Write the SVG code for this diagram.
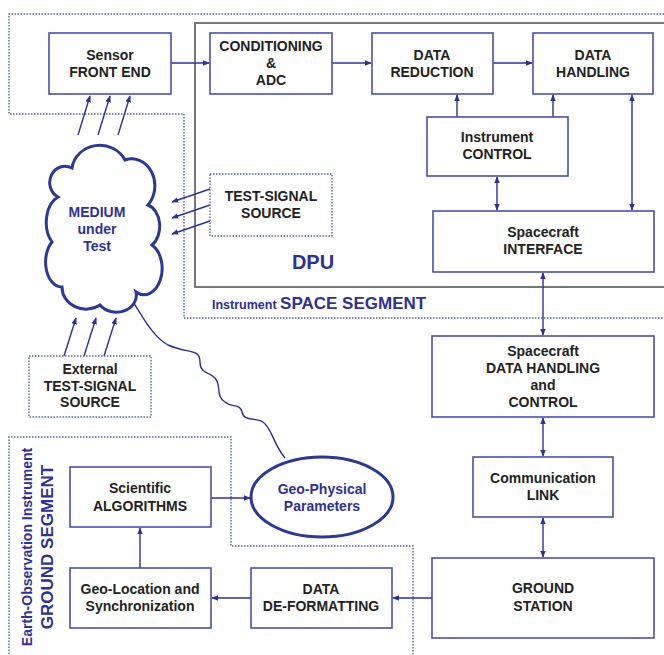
<svg xmlns="http://www.w3.org/2000/svg" width="664" height="655" viewBox="0 0 664 655">
<defs>
<style>
.box{fill:#fff;stroke:#4b50a6;stroke-width:1.6}
.dbox{fill:#fff;stroke:#5563b8;stroke-width:1.4;stroke-dasharray:1.5 1.5}
.bound{fill:none;stroke:#5563b8;stroke-width:1.4;stroke-dasharray:1.5 1.5}
.t{font-family:"Liberation Sans",Arial,sans-serif;font-weight:bold;font-size:14px;fill:#222;text-anchor:middle}
.bt{font-family:"Liberation Sans",Arial,sans-serif;font-weight:bold;fill:#2e3192}
.c{fill:none;stroke:#2e3192;stroke-width:1.4}
.thick{fill:#fff;stroke:#2b3990;stroke-width:3}
</style>
<marker id="ah" viewBox="0 0 10 10" refX="9" refY="5" markerWidth="7" markerHeight="7" orient="auto-start-reverse" markerUnits="userSpaceOnUse">
<path d="M0,1 L10,5 L0,9 Z" fill="#2e3192"/>
</marker>
</defs>
<rect width="664" height="655" fill="#fff"/>

<g id="boundaries">
<path class="bound" d="M670,14 H9 V114 H184 V318 H670"/>
<rect x="195" y="23" width="480" height="264" fill="none" stroke="#777" stroke-width="2"/>
<path class="bound" d="M9,660 V437 H231 V546 H413 V660"/>
<text class="bt" x="313" y="269" font-size="20" text-anchor="middle">DPU</text>
<text class="bt" x="212" y="309" font-size="12.5">Instrument <tspan font-size="17">SPACE SEGMENT</tspan></text>
<text class="bt" font-size="14" text-anchor="middle" transform="translate(32,547) rotate(-90)" font-weight="normal">Earth-Observation Instrument</text>
<text class="bt" font-size="17" text-anchor="middle" transform="translate(53,547) rotate(-90)">GROUND SEGMENT</text>
</g>

<g id="connectors">
<line class="c" x1="171" y1="63" x2="209" y2="63" marker-end="url(#ah)"/>
<line class="c" x1="332" y1="63" x2="371" y2="63" marker-end="url(#ah)"/>
<line class="c" x1="493" y1="63" x2="532" y2="63" marker-end="url(#ah)"/>
<line class="c" x1="457" y1="117" x2="457" y2="95" marker-end="url(#ah)"/>
<line class="c" x1="553" y1="117" x2="553" y2="95" marker-end="url(#ah)"/>
<line class="c" x1="497" y1="177" x2="497" y2="210" marker-start="url(#ah)" marker-end="url(#ah)"/>
<line class="c" x1="632" y1="95" x2="632" y2="210" marker-start="url(#ah)" marker-end="url(#ah)"/>
<line class="c" x1="543" y1="273" x2="543" y2="335" marker-start="url(#ah)" marker-end="url(#ah)"/>
<line class="c" x1="543" y1="418" x2="543" y2="456" marker-start="url(#ah)" marker-end="url(#ah)"/>
<line class="c" x1="543" y1="518" x2="543" y2="557" marker-start="url(#ah)" marker-end="url(#ah)"/>
<line class="c" x1="432" y1="598" x2="393" y2="598" marker-end="url(#ah)"/>
<line class="c" x1="251" y1="598" x2="212" y2="598" marker-end="url(#ah)"/>
<line class="c" x1="140" y1="568" x2="140" y2="528" marker-end="url(#ah)"/>
<line class="c" x1="211" y1="498" x2="250" y2="498" marker-end="url(#ah)"/>
<line class="c" x1="78" y1="135" x2="90" y2="96" marker-end="url(#ah)"/>
<line class="c" x1="98" y1="135" x2="110" y2="96" marker-end="url(#ah)"/>
<line class="c" x1="118" y1="135" x2="130" y2="96" marker-end="url(#ah)"/>
<line class="c" x1="210" y1="189" x2="172" y2="202" marker-end="url(#ah)"/>
<line class="c" x1="210" y1="205" x2="172" y2="218" marker-end="url(#ah)"/>
<line class="c" x1="210" y1="221" x2="172" y2="234" marker-end="url(#ah)"/>
<line class="c" x1="64" y1="356" x2="76" y2="318" marker-end="url(#ah)"/>
<line class="c" x1="84" y1="356" x2="96" y2="318" marker-end="url(#ah)"/>
<line class="c" x1="104" y1="356" x2="116" y2="318" marker-end="url(#ah)"/>
<path class="c" d="M128,295 C140,310 150,335 168,345 C188,354 200,348 200,362 C200,374 210,372 215,378 C222,386 215,396 225,402 C232,408 240,403 242,412 C244,422 255,417 263,422 C273,430 272,442 285,458"/>
</g>

<g id="sensor"><rect class="box" x="49" y="33" width="122" height="61"/><text class="t" x="110" y="60">Sensor</text><text class="t" x="110" y="77">FRONT END</text></g>
<g id="conditioning"><rect class="box" x="210" y="33" width="122" height="61"/><text class="t" x="271" y="51">CONDITIONING</text><text class="t" x="271" y="68">&amp;</text><text class="t" x="271" y="85">ADC</text></g>
<g id="reduction"><rect class="box" x="372" y="33" width="121" height="61"/><text class="t" x="432" y="60">DATA</text><text class="t" x="432" y="77">REDUCTION</text></g>
<g id="handling"><rect class="box" x="533" y="33" width="120" height="61"/><text class="t" x="593" y="60">DATA</text><text class="t" x="593" y="77">HANDLING</text></g>
<g id="control"><rect class="box" x="427" y="117" width="141" height="59"/><text class="t" x="497" y="142">Instrument</text><text class="t" x="497" y="159">CONTROL</text></g>
<g id="interface"><rect class="box" x="433" y="211" width="221" height="61"/><text class="t" x="543" y="237">Spacecraft</text><text class="t" x="543" y="254">INTERFACE</text></g>
<g id="testsource"><rect class="dbox" x="210" y="174" width="122" height="62"/><text class="t" x="271" y="201">TEST-SIGNAL</text><text class="t" x="271" y="218">SOURCE</text></g>
<g id="medium"><path class="thick" d="M72,168 A28,26 0 0 1 125,160 A23,27 0 0 1 148,205 A16,22 0 0 1 152,245 A18,26 0 0 1 136,292 A20,17 0 0 1 100,305 A24,22 0 0 1 62,287 A16,25 0 0 1 52,242 A18,27 0 0 1 58,197 A15,16 0 0 1 72,168 Z"/><text class="t" x="97" y="217" style="fill:#2e3192">MEDIUM</text><text class="t" x="97" y="234" style="fill:#2e3192">under</text><text class="t" x="97" y="251" style="fill:#2e3192">Test</text></g>
<g id="exttest"><rect class="dbox" x="29" y="356" width="122" height="61"/><text class="t" x="90" y="374">External</text><text class="t" x="90" y="391">TEST-SIGNAL</text><text class="t" x="90" y="407">SOURCE</text></g>
<g id="scdhc"><rect class="box" x="432" y="336" width="222" height="81"/><text class="t" x="543" y="356">Spacecraft</text><text class="t" x="543" y="373">DATA HANDLING</text><text class="t" x="543" y="390">and</text><text class="t" x="543" y="407">CONTROL</text></g>
<g id="comm"><rect class="box" x="473" y="457" width="140" height="60"/><text class="t" x="543" y="483">Communication</text><text class="t" x="543" y="500">LINK</text></g>
<g id="groundstation"><rect class="box" x="432" y="558" width="222" height="80"/><text class="t" x="543" y="593">GROUND</text><text class="t" x="543" y="611">STATION</text></g>
<g id="deformat"><rect class="box" x="251" y="568" width="141" height="60"/><text class="t" x="321" y="594">DATA</text><text class="t" x="321" y="611">DE-FORMATTING</text></g>
<g id="geoloc"><rect class="box" x="70" y="568" width="141" height="60"/><text class="t" x="140" y="594">Geo-Location and</text><text class="t" x="140" y="611">Synchronization</text></g>
<g id="scientific"><rect class="box" x="70" y="467" width="141" height="60"/><text class="t" x="140" y="493">Scientific</text><text class="t" x="140" y="511">ALGORITHMS</text></g>
<g id="geophys"><ellipse class="thick" cx="322" cy="497" rx="71" ry="40"/><text class="t" x="322" y="494" style="fill:#2e3192">Geo-Physical</text><text class="t" x="322" y="511" style="fill:#2e3192">Parameters</text></g>
</svg>
